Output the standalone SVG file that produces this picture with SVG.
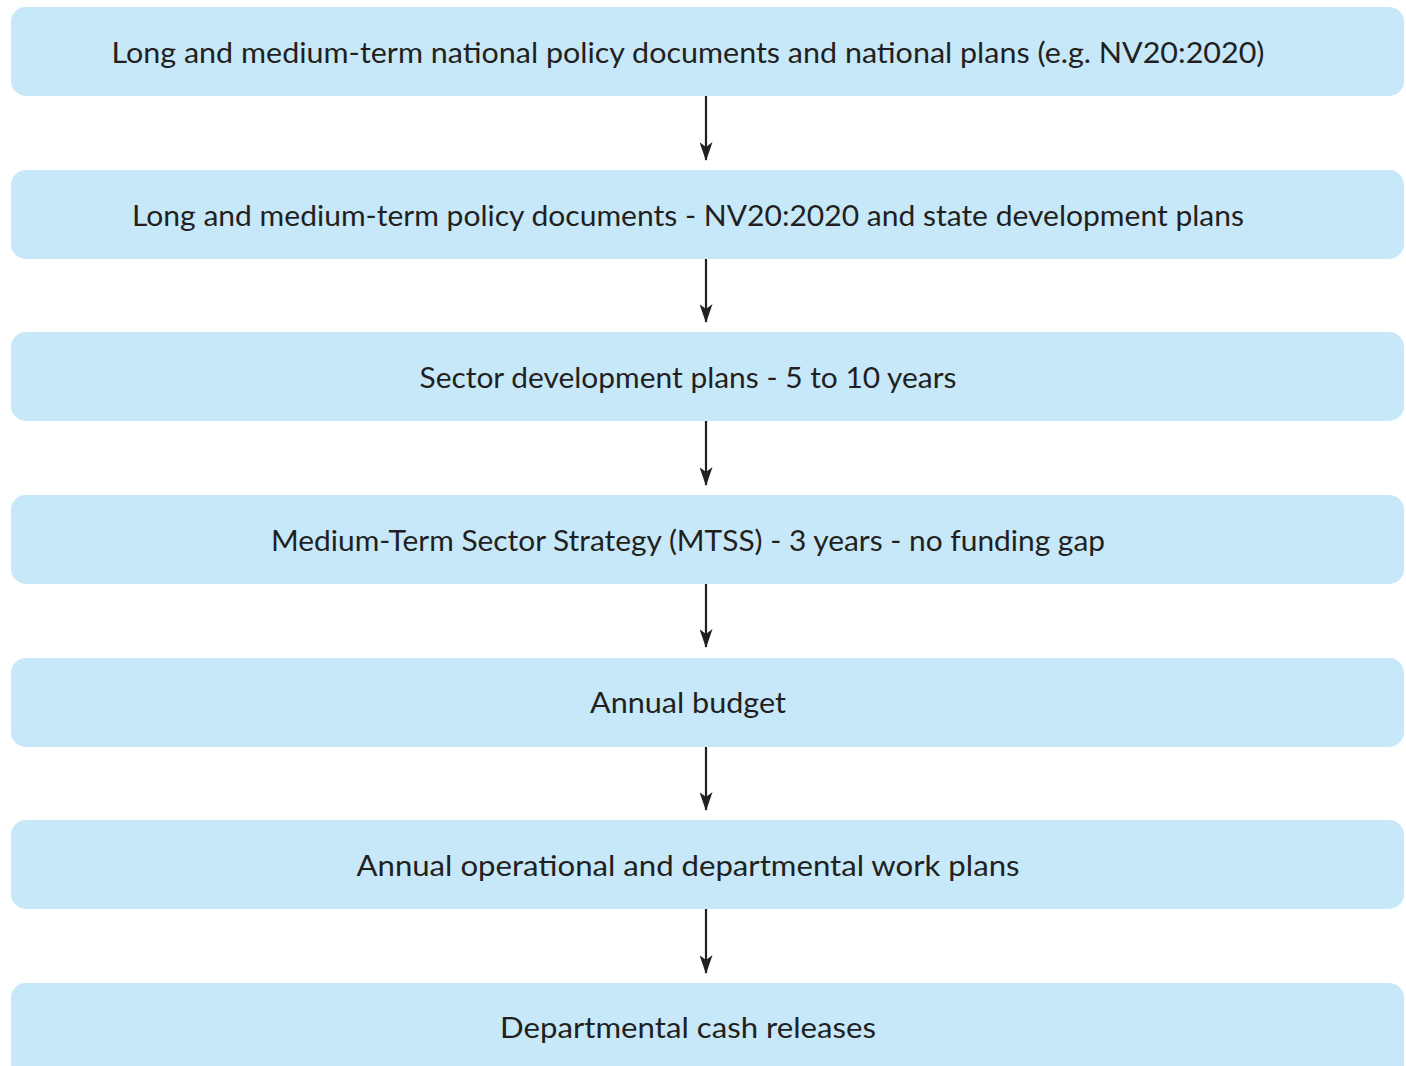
<svg xmlns="http://www.w3.org/2000/svg" width="1406" height="1066" viewBox="0 0 1406 1066">
<style>
.box{fill:#c6e8f8}
.t{font-family:"Lato","Liberation Sans",sans-serif;font-size:28px;fill:#231f20;text-anchor:middle}
.c{stroke:#231f20;stroke-width:2.2;fill:none}
</style>
<defs>
<marker id="ah" markerWidth="19" markerHeight="13" refX="18" refY="6.5" orient="auto" markerUnits="userSpaceOnUse" viewBox="0 0 19 13">
<path d="M0,0 L19,6.5 L0,13 L5,6.5 Z" fill="#231f20"/>
</marker>
</defs>
<rect width="1406" height="1066" fill="#ffffff"/>
<g id="n1"><rect class="box" x="11" y="7" width="1393" height="89" rx="15"/><text class="t" x="688" y="63" textLength="1153" lengthAdjust="spacingAndGlyphs">Long and medium-term national policy documents and national plans (e.g. NV20:2020)</text></g>
<g id="n2"><rect class="box" x="11" y="170" width="1393" height="89" rx="15"/><text class="t" x="688" y="226" textLength="1112" lengthAdjust="spacingAndGlyphs">Long and medium-term policy documents - NV20:2020 and state development plans</text></g>
<g id="n3"><rect class="box" x="11" y="332" width="1393" height="89" rx="15"/><text class="t" x="688" y="388" textLength="537" lengthAdjust="spacingAndGlyphs">Sector development plans - 5 to 10 years</text></g>
<g id="n4"><rect class="box" x="11" y="495" width="1393" height="89" rx="15"/><text class="t" x="688" y="551" textLength="834" lengthAdjust="spacingAndGlyphs">Medium-Term Sector Strategy (MTSS) - 3 years - no funding gap</text></g>
<g id="n5"><rect class="box" x="11" y="658" width="1393" height="89" rx="15"/><text class="t" x="688" y="713" textLength="196" lengthAdjust="spacingAndGlyphs">Annual budget</text></g>
<g id="n6"><rect class="box" x="11" y="820" width="1393" height="89" rx="15"/><text class="t" x="688" y="876" textLength="663" lengthAdjust="spacingAndGlyphs">Annual operational and departmental work plans</text></g>
<g id="n7"><rect class="box" x="11" y="983" width="1393" height="100" rx="15"/><text class="t" x="688" y="1038" textLength="376" lengthAdjust="spacingAndGlyphs">Departmental cash releases</text></g>
<g id="connectors">
<path class="c" d="M706,96 V160" marker-end="url(#ah)"/>
<path class="c" d="M706,259 V322" marker-end="url(#ah)"/>
<path class="c" d="M706,421 V485" marker-end="url(#ah)"/>
<path class="c" d="M706,584 V647" marker-end="url(#ah)"/>
<path class="c" d="M706,747 V810" marker-end="url(#ah)"/>
<path class="c" d="M706,909 V973" marker-end="url(#ah)"/>
</g>
</svg>
